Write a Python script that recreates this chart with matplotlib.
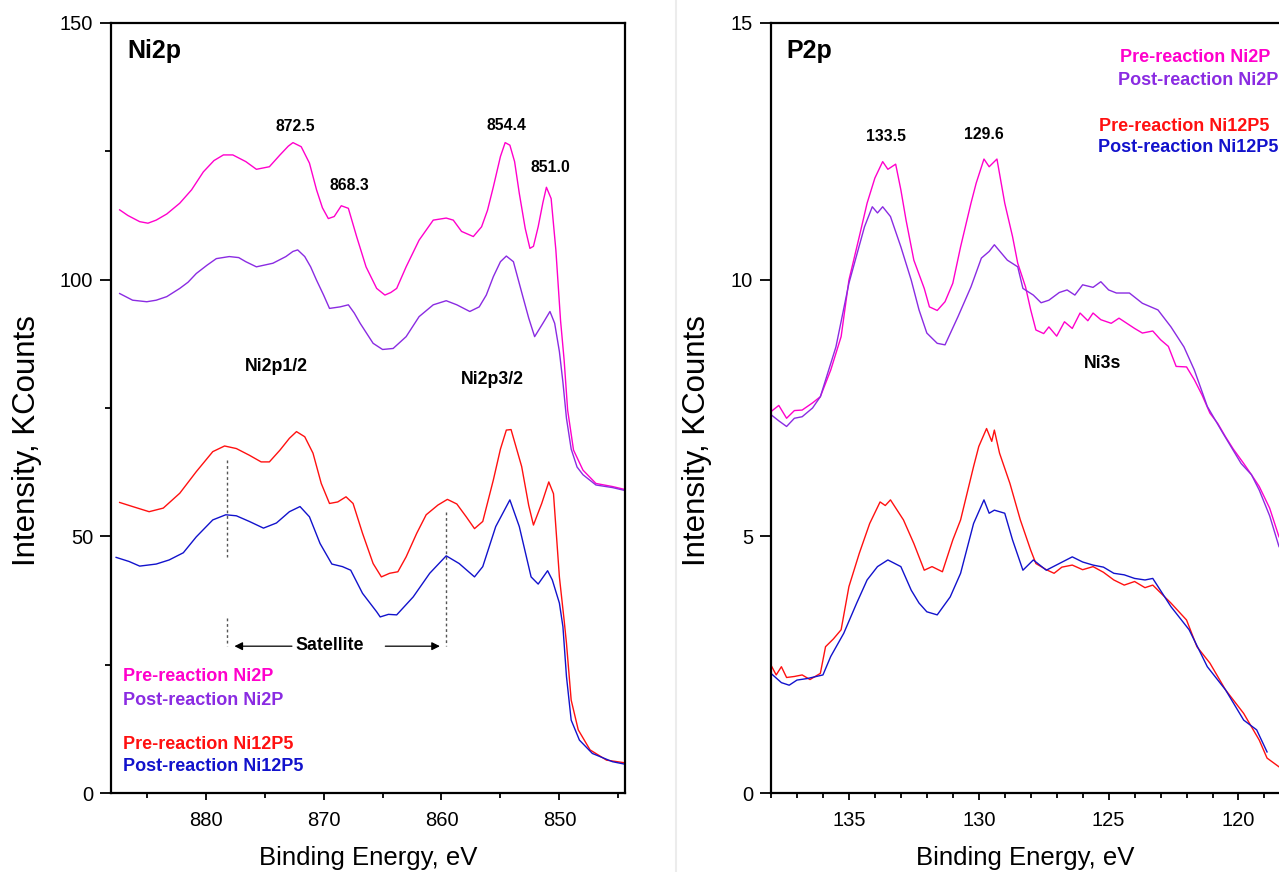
#!/usr/bin/env python3
"""Ni2p / P2p XPS spectra, pre- and post-reaction Ni2P and Ni12P5.

Two side-by-side panels on a reversed binding-energy axis. Values were read
off the published figure by eye (KCounts vs eV), so they trace the envelope
of each spectrum, not the raw counting noise.
"""
import matplotlib

matplotlib.use("Agg")
import matplotlib.pyplot as plt  # noqa: E402
from matplotlib.lines import Line2D  # noqa: E402
from matplotlib.ticker import MultipleLocator  # noqa: E402

plt.rcParams["font.family"] = ["Liberation Sans", "DejaVu Sans"]

# --- Ni2p panel -------------------------------------------------------------
ni2p_pre_ni2p_e = [887.3, 886.6, 885.6, 884.9, 884.2, 883.3, 882.2, 881.2, 880.2, 879.3,
                   878.5, 877.7, 876.6, 875.7, 874.6, 873.7, 873.0, 872.6, 871.9, 871.2,
                   870.6, 870.1, 869.6, 869.1, 868.5, 867.9, 867.2, 866.4, 865.5, 864.8,
                   864.3, 863.8, 863.0, 861.9, 860.7, 859.6, 859.0, 858.3, 857.3, 856.6,
                   856.1, 855.6, 855.0, 854.6, 854.2, 853.8, 853.4, 852.9, 852.5, 852.2,
                   851.8, 851.4, 851.1, 850.7, 850.3, 849.9, 849.6, 849.3, 848.8, 848.0,
                   846.9, 845.5, 844.2]
ni2p_pre_ni2p_v = [113.6, 112.5, 111.3, 111.0, 111.6, 112.8, 114.9, 117.5, 121.0, 123.2,
                   124.3, 124.3, 123.0, 121.5, 122.0, 124.3, 126.0, 126.7, 125.9, 122.7,
                   117.5, 114.0, 111.9, 112.3, 114.4, 113.9, 108.4, 102.5, 98.3, 97.0,
                   97.5, 98.3, 102.5, 107.7, 111.6, 112.0, 111.6, 109.4, 108.4, 110.3,
                   113.5, 118.1, 124.0, 126.7, 126.2, 123.0, 116.8, 110.0, 106.1, 106.5,
                   110.3, 115.0, 118.0, 115.8, 105.8, 92.0, 84.4, 74.6, 66.8, 62.9,
                   60.3, 59.7, 59.0]

ni2p_post_ni2p_e = [887.3, 886.2, 885.0, 884.2, 883.3, 882.2, 881.5, 880.8, 879.9, 879.1,
                    878.0, 877.2, 876.6, 875.7, 874.3, 873.2, 872.6, 872.2, 871.6, 871.1,
                    870.6, 870.0, 869.5, 868.6, 867.9, 867.4, 866.9, 865.8, 865.0, 864.1,
                    863.0, 861.9, 860.7, 859.6, 858.7, 857.6, 856.8, 856.2, 855.6, 855.0,
                    854.5, 853.9, 853.1, 852.6, 852.1, 851.4, 850.8, 850.4, 850.0, 849.7,
                    849.4, 849.0, 848.5, 848.0, 846.9, 845.5, 844.2]
ni2p_post_ni2p_v = [97.3, 96.0, 95.7, 96.0, 96.7, 98.3, 99.5, 101.2, 102.8, 104.1,
                    104.5, 104.3, 103.5, 102.5, 103.2, 104.5, 105.5, 105.8, 104.5, 102.5,
                    99.9, 97.0, 94.4, 94.7, 95.1, 93.5, 91.5, 87.6, 86.4, 86.6,
                    88.9, 92.8, 95.1, 95.9, 95.1, 93.8, 94.7, 97.0, 100.6, 103.5,
                    104.6, 103.5, 96.7, 92.5, 88.9, 91.5, 93.8, 91.5, 86.0, 80.0,
                    73.0, 67.0, 63.5, 62.0, 60.0, 59.5, 58.8]

ni2p_pre_ni12p5_e = [887.3, 886.2, 884.8, 883.6, 882.2, 880.8, 879.4, 878.4, 877.4, 876.3,
                     875.3, 874.6, 873.7, 872.9, 872.3, 871.6, 870.9, 870.2, 869.5, 868.8,
                     868.1, 867.5, 866.7, 865.8, 865.1, 864.4, 863.7, 863.0, 862.1, 861.3,
                     860.3, 859.5, 858.7, 857.9, 857.2, 856.5, 855.6, 855.0, 854.5, 854.1,
                     853.2, 852.6, 852.2, 851.5, 850.9, 850.5, 850.0, 849.6, 849.4, 849.0,
                     848.4, 847.4, 846.0, 844.2]
ni2p_pre_ni12p5_v = [56.6, 55.8, 54.8, 55.5, 58.4, 62.6, 66.5, 67.6, 67.1, 65.8,
                     64.5, 64.5, 66.8, 69.1, 70.4, 69.4, 66.2, 60.3, 56.4, 56.7,
                     57.7, 56.4, 50.6, 44.7, 42.1, 42.8, 43.1, 46.0, 50.6, 54.2,
                     56.1, 57.2, 56.3, 53.8, 51.5, 52.9, 61.0, 67.0, 70.7, 70.8,
                     63.6, 56.0, 52.2, 56.4, 60.6, 58.3, 42.1, 33.7, 29.2, 18.1,
                     12.3, 8.4, 6.4, 5.8]

ni2p_post_ni12p5_e = [887.6, 886.5, 885.6, 884.2, 883.1, 881.9, 880.8, 879.4, 878.3, 877.4,
                      876.3, 875.1, 874.0, 872.9, 872.0, 871.2, 870.3, 869.3, 868.4, 867.7,
                      866.7, 865.5, 865.2, 864.5, 863.8, 862.4, 861.0, 859.6, 858.5, 857.2,
                      856.5, 855.4, 854.2, 853.4, 852.4, 851.8, 851.0, 850.6, 850.0, 849.7,
                      849.4, 849.0, 848.3, 847.2, 845.5, 844.2]
ni2p_post_ni12p5_v = [45.9, 45.1, 44.2, 44.6, 45.4, 46.8, 49.9, 53.2, 54.2, 54.0,
                      52.9, 51.6, 52.6, 54.8, 55.8, 53.8, 48.6, 44.6, 44.1, 43.4,
                      38.9, 35.3, 34.3, 34.8, 34.7, 38.2, 42.8, 46.2, 44.7, 42.1,
                      44.1, 51.9, 57.1, 51.9, 42.1, 40.7, 43.3, 41.5, 37.0, 32.4,
                      22.7, 14.2, 10.3, 7.7, 6.1, 5.5]

# --- P2p panel --------------------------------------------------------------
p2p_pre_ni2p_e = [138.0, 137.7, 137.4, 137.1, 136.8, 136.4, 136.1, 135.7, 135.3, 135.0,
                  134.6, 134.3, 134.0, 133.7, 133.5, 133.2, 133.0, 132.8, 132.5, 132.1,
                  131.9, 131.6, 131.3, 131.0, 130.7, 130.3, 130.1, 129.8, 129.6, 129.3,
                  129.0, 128.7, 128.5, 128.2, 128.0, 127.8, 127.5, 127.3, 127.0, 126.7,
                  126.4, 126.1, 125.8, 125.6, 125.3, 124.9, 124.6, 124.3, 124.0, 123.7,
                  123.3, 123.0, 122.7, 122.4, 122.0, 121.7, 121.4, 121.1, 120.8, 120.5,
                  120.2, 119.8, 119.5, 119.2, 118.8, 118.44]
p2p_pre_ni2p_v = [7.43, 7.55, 7.30, 7.45, 7.46, 7.60, 7.72, 8.24, 8.89, 9.99,
                  10.84, 11.49, 11.98, 12.30, 12.15, 12.25, 11.75, 11.16, 10.38, 9.83,
                  9.47, 9.40, 9.57, 9.93, 10.64, 11.49, 11.88, 12.35, 12.20, 12.35,
                  11.49, 10.84, 10.32, 9.86, 9.41, 9.02, 8.95, 9.08, 8.90, 9.18,
                  9.05, 9.35, 9.20, 9.35, 9.22, 9.15, 9.25, 9.15, 9.05, 8.96,
                  9.00, 8.83, 8.70, 8.31, 8.30, 8.05, 7.75, 7.40, 7.20, 6.94,
                  6.70, 6.42, 6.20, 5.97, 5.55, 4.99]

p2p_post_ni2p_e = [138.0, 137.7, 137.4, 137.1, 136.8, 136.4, 136.1, 135.5, 135.0, 134.4,
                   134.1, 133.9, 133.7, 133.4, 133.0, 132.6, 132.3, 132.0, 131.6, 131.3,
                   130.8, 130.3, 129.9, 129.6, 129.4, 128.9, 128.5, 128.3, 127.9, 127.6,
                   127.3, 126.9, 126.6, 126.3, 126.0, 125.6, 125.3, 125.0, 124.7, 124.2,
                   123.7, 123.1, 122.6, 122.1, 121.7, 121.2, 120.6, 119.9, 119.5, 119.2,
                   118.8, 118.44]
p2p_post_ni2p_v = [7.37, 7.25, 7.14, 7.30, 7.33, 7.50, 7.72, 8.69, 9.93, 11.03,
                   11.42, 11.30, 11.42, 11.23, 10.64, 9.99, 9.41, 8.96, 8.76, 8.73,
                   9.28, 9.86, 10.42, 10.55, 10.68, 10.38, 10.25, 9.83, 9.70, 9.55,
                   9.60, 9.75, 9.80, 9.70, 9.90, 9.85, 9.96, 9.80, 9.74, 9.74,
                   9.54, 9.41, 9.08, 8.69, 8.24, 7.53, 7.01, 6.42, 6.20, 5.90,
                   5.40, 4.80]

p2p_pre_ni12p5_e = [138.0, 137.8, 137.6, 137.4, 137.1, 136.8, 136.5, 136.1, 135.9, 135.6,
                    135.3, 135.0, 134.6, 134.2, 133.8, 133.6, 133.4, 132.9, 132.5, 132.1,
                    131.8, 131.4, 131.0, 130.7, 130.2, 130.0, 129.7, 129.5, 129.4, 129.2,
                    128.8, 128.4, 128.0, 127.8, 127.4, 127.1, 126.8, 126.4, 126.0, 125.6,
                    125.2, 124.8, 124.4, 124.0, 123.6, 123.3, 122.6, 122.0, 121.6, 121.1,
                    120.5, 119.8, 119.2, 118.9, 118.44]
p2p_pre_ni12p5_v = [2.49, 2.30, 2.46, 2.25, 2.27, 2.30, 2.21, 2.33, 2.85, 3.00,
                    3.18, 4.02, 4.67, 5.25, 5.67, 5.60, 5.71, 5.32, 4.86, 4.34,
                    4.41, 4.31, 4.93, 5.32, 6.36, 6.75, 7.10, 6.85, 7.07, 6.62,
                    6.03, 5.32, 4.73, 4.47, 4.35, 4.28, 4.40, 4.44, 4.35, 4.41,
                    4.30, 4.15, 4.05, 4.12, 4.00, 4.05, 3.70, 3.37, 2.85, 2.53,
                    2.01, 1.55, 1.03, 0.68, 0.51]

p2p_post_ni12p5_e = [138.0, 137.6, 137.3, 137.0, 136.6, 136.0, 135.7, 135.2, 134.7, 134.3,
                     133.9, 133.5, 133.0, 132.6, 132.3, 132.0, 131.6, 131.1, 130.7, 130.2,
                     129.8, 129.6, 129.4, 129.0, 128.7, 128.3, 127.9, 127.4, 126.9, 126.4,
                     126.0, 125.6, 125.2, 124.8, 124.4, 124.0, 123.6, 123.3, 122.6, 121.9,
                     121.2, 120.5, 119.8, 119.3, 118.9]
p2p_post_ni12p5_v = [2.33, 2.15, 2.10, 2.20, 2.23, 2.30, 2.66, 3.11, 3.70, 4.15,
                     4.41, 4.54, 4.41, 3.95, 3.70, 3.53, 3.47, 3.82, 4.28, 5.25,
                     5.71, 5.45, 5.51, 5.45, 4.93, 4.34, 4.54, 4.34, 4.47, 4.60,
                     4.50, 4.44, 4.40, 4.28, 4.25, 4.18, 4.15, 4.18, 3.63, 3.18,
                     2.46, 2.01, 1.42, 1.23, 0.80]

series_labels = ["Pre-reaction Ni2P", "Post-reaction Ni2P",
                 "Pre-reaction Ni12P5", "Post-reaction Ni12P5"]
ni2p_peak_labels = ["872.5", "868.3", "854.4", "851.0"]
p2p_peak_labels = ["133.5", "129.6"]

# Styling
COLORS = ["#ff00cc", "#8a2be2", "#ff1010", "#1212cc"]
INK = "#000000"
FIG_W, FIG_H, DPI = 12.79, 8.72, 100
TICK_FS = 14.5
XLABEL_FS = 18.5
YLABEL_FS = 22.5
NOTE_FS = 12.8
NUM_FS = 11.3
LEGEND_FS = 13


def style_axes(ax, xmajor, xminor, ymajor, yminor, ylabel_x):
    for side in ("left", "bottom", "top", "right"):
        ax.spines[side].set_linewidth(1.6)
    ax.xaxis.set_major_locator(MultipleLocator(xmajor))
    ax.xaxis.set_minor_locator(MultipleLocator(xminor))
    ax.yaxis.set_major_locator(MultipleLocator(ymajor))
    if yminor:
        ax.yaxis.set_minor_locator(MultipleLocator(yminor))
    ax.tick_params(axis="both", which="both", direction="out", width=1.3,
                   labelsize=TICK_FS, top=False, right=False)
    ax.tick_params(axis="x", which="major", length=5, pad=8)
    ax.tick_params(axis="x", which="minor", length=3.5)
    ax.tick_params(axis="y", which="major", length=8, pad=5)
    ax.tick_params(axis="y", which="minor", length=4)
    # x label hugs the bottom edge (the source crops its descenders)
    ax.set_xlabel("Binding Energy, eV", fontsize=XLABEL_FS, va="bottom")
    ax.xaxis.set_label_coords(0.5, -(870 - 793) / 770)
    ax.set_ylabel("Intensity, KCounts", fontsize=YLABEL_FS)
    ax.yaxis.set_label_coords(ylabel_x, 0.458)


def build_figure():
    fig = plt.figure(figsize=(FIG_W, FIG_H), dpi=DPI)
    fig.patch.set_facecolor("white")

    # faint seam between the two original panels
    fig.add_artist(Line2D([676 / 1279, 676 / 1279], [0, 1], color="#ececec",
                          linewidth=1.5, transform=fig.transFigure))

    # ---- left: Ni2p
    ax1 = fig.add_axes([111.4 / 1279, 79 / 872, 513.3 / 1279, 770 / 872])
    ni2p = [(ni2p_pre_ni2p_e, ni2p_pre_ni2p_v), (ni2p_post_ni2p_e, ni2p_post_ni2p_v),
            (ni2p_pre_ni12p5_e, ni2p_pre_ni12p5_v), (ni2p_post_ni12p5_e, ni2p_post_ni12p5_v)]
    for (e, v), color in zip(ni2p, COLORS):
        ax1.plot(e, v, color=color, linewidth=1.0)
    ax1.set_xlim(888, 844.46)
    ax1.set_ylim(0, 150)
    style_axes(ax1, 10, 5, 50, 25, (42 - 111.4) / 513.3)

    ax1.text(0.031, 0.964, "Ni2p", transform=ax1.transAxes, fontsize=18,
             fontweight="bold", va="center", ha="left")
    for label, (x, y) in zip(ni2p_peak_labels,
                             [(872.4, 129.9), (867.8, 118.3), (854.5, 130.1), (850.8, 121.9)]):
        ax1.text(x, y, label, fontsize=NUM_FS, fontweight="bold", ha="center", va="center")
    ax1.text(874.0, 83.1, "Ni2p1/2", fontsize=NOTE_FS, fontweight="bold",
             ha="center", va="center")
    ax1.text(855.7, 80.5, "Ni2p3/2", fontsize=NOTE_FS, fontweight="bold",
             ha="center", va="center")

    # satellite markers
    dot = dict(color="#555555", linestyle=(0, (2, 2)), linewidth=1.0)
    ax1.plot([878.2, 878.2], [64.9, 46.0], **dot)
    ax1.plot([878.2, 878.2], [34.0, 28.6], **dot)
    ax1.plot([859.6, 859.6], [54.8, 28.6], **dot)
    ax1.text(869.5, 28.8, "Satellite", fontsize=NOTE_FS, fontweight="bold",
             ha="center", va="center")
    arrow = dict(arrowstyle="-|>", color=INK, linewidth=0.9, mutation_scale=12)
    ax1.annotate("", xy=(877.8, 28.6), xytext=(872.45, 28.6), arrowprops=arrow)
    ax1.annotate("", xy=(859.9, 28.6), xytext=(865.0, 28.6), arrowprops=arrow)

    for label, color, y in zip(series_labels, COLORS, [22.7, 18.1, 9.5, 5.1]):
        ax1.text(887.0, y, label, color=color, fontsize=LEGEND_FS, fontweight="bold",
                 ha="left", va="center")

    # ---- right: P2p (cut off at the right edge like the source image)
    ax2 = fig.add_axes([771 / 1279, 79 / 872, 508 / 1279, 770 / 872])
    p2p = [(p2p_pre_ni2p_e, p2p_pre_ni2p_v), (p2p_post_ni2p_e, p2p_post_ni2p_v),
           (p2p_pre_ni12p5_e, p2p_pre_ni12p5_v), (p2p_post_ni12p5_e, p2p_post_ni12p5_v)]
    for (e, v), color in zip(p2p, COLORS):
        ax2.plot(e, v, color=color, linewidth=1.0)
    ax2.set_xlim(138, 118.44)
    ax2.set_ylim(0, 15)
    style_axes(ax2, 5, 1, 5, None, (712 - 771) / 508)
    ax2.spines["right"].set_visible(False)

    ax2.text(0.030, 0.964, "P2p", transform=ax2.transAxes, fontsize=18,
             fontweight="bold", va="center", ha="left")
    for label, (x, y) in zip(p2p_peak_labels, [(133.58, 12.79), (129.8, 12.83)]):
        ax2.text(x, y, label, fontsize=NUM_FS, fontweight="bold", ha="center", va="center")
    ax2.text(125.25, 8.37, "Ni3s", fontsize=NOTE_FS, fontweight="bold",
             ha="center", va="center")
    for label, color, (x, y) in zip(series_labels, COLORS,
                                    [(124.56, 14.33), (124.63, 13.88),
                                     (125.36, 12.99), (125.40, 12.58)]):
        ax2.text(x, y, label, color=color, fontsize=LEGEND_FS, fontweight="bold",
                 ha="left", va="center", clip_on=False)
    return fig


def main():
    fig = build_figure()
    fig.savefig("out.png", dpi=DPI, facecolor="white")
    plt.close(fig)


if __name__ == "__main__":
    main()
